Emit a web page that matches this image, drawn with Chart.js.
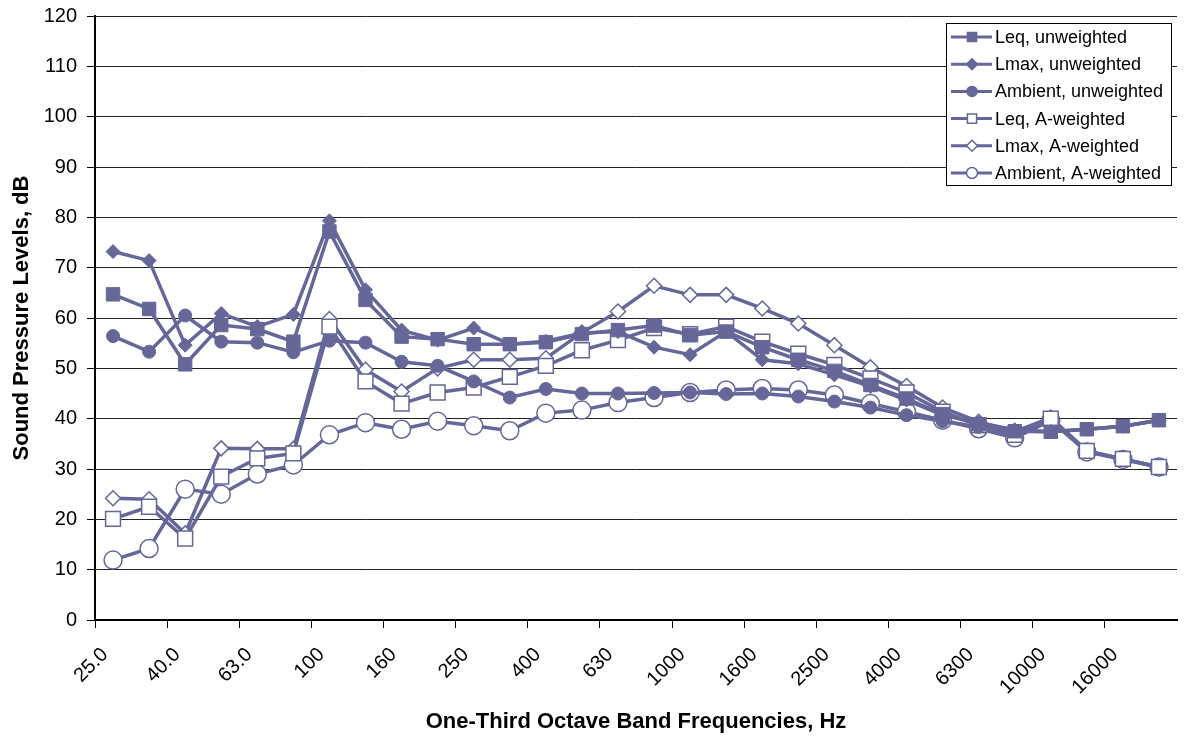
<!DOCTYPE html>
<html>
<head>
<meta charset="utf-8">
<script src="https://cdn.jsdelivr.net/npm/chart.js@4/dist/chart.umd.min.js"></script>
<style>
  html, body { margin: 0; padding: 0; background: #fff; overflow: hidden; }
  #wrap { width: 1185px; height: 738px; overflow: hidden; position: relative; }
  #box { width: 1189px; height: 738px; position: absolute; left: 0; top: 0; }
</style>
</head>
<body>
<div id="wrap"><div id="box"><canvas id="chart_spl"></canvas></div></div>
<script>
// one-third octave bands, Hz
const bands = ['25.0', '31.5', '40.0', '50.0', '63.0', '80.0', '100', '125', '160', '200',
  '250', '315', '400', '500', '630', '800', '1000', '1250', '1600', '2000',
  '2500', '3150', '4000', '5000', '6300', '8000', '10000', '12500', '16000', '20000'];

const yTicks = { min: 0, max: 120, step: 10 };

// levels in dB
const leqUnweighted = [64.7, 61.8, 50.8, 58.6, 57.8, 55.3, 77.2, 63.6, 56.3, 55.8, 54.8, 54.8, 55.2, 56.8, 57.6,
  58.5, 56.6, 57.3, 54.2, 51.7, 49.5, 46.7, 44.0, 40.9, 38.9, 37.5, 37.4, 37.9, 38.5, 39.7];
const lmaxUnweighted = [73.2, 71.4, 54.6, 60.9, 58.3, 60.7, 79.3, 65.6, 57.6, 55.6, 58.0, 54.8, 55.4, 57.0, 57.3,
  54.2, 52.7, 57.3, 51.7, 50.9, 48.7, 46.4, 43.7, 40.7, 39.2, 37.8, 37.4, 37.9, 38.5, 39.7];
const ambientUnweighted = [56.4, 53.3, 60.5, 55.3, 55.1, 53.2, 55.5, 55.1, 51.3, 50.5, 47.4, 44.2, 45.9, 45.0, 45.0,
  45.1, 45.2, 44.9, 45.0, 44.4, 43.4, 42.2, 40.7, 39.5, 38.4, 37.6, 37.4, 37.9, 38.5, 39.7];
const leqA = [20.1, 22.5, 16.2, 28.5, 32.1, 33.1, 58.3, 47.4, 43.0, 45.2, 46.2, 48.3, 50.5, 53.6, 55.6,
  58.0, 56.8, 58.3, 55.3, 52.9, 50.7, 48.0, 45.2, 41.4, 38.7, 36.8, 40.0, 33.6, 32.0, 30.4];
const lmaxA = [24.2, 24.0, 17.2, 34.1, 34.0, 34.0, 59.8, 49.7, 45.4, 50.0, 51.7, 51.7, 52.0, 57.1, 61.3,
  66.4, 64.6, 64.6, 61.9, 58.9, 54.6, 50.2, 46.5, 42.2, 39.4, 37.4, 40.2, 33.6, 32.0, 30.4];
const ambientA = [11.9, 14.2, 26.0, 25.0, 29.0, 30.8, 36.8, 39.2, 37.9, 39.5, 38.6, 37.6, 41.1, 41.7, 43.2,
  44.2, 45.2, 45.7, 46.0, 45.7, 44.7, 43.0, 41.4, 39.7, 38.0, 36.2, 39.6, 33.4, 31.9, 30.4];

const seriesColor = '#666699';
const FONT = "'Liberation Sans', Arial, sans-serif";

function series(label, data, style, radius, filled, legendRadius) {
  return {
    label: label,
    data: data,
    borderColor: seriesColor,
    borderWidth: 3.5,
    pointStyle: style,
    pointRadius: radius,
    pointBackgroundColor: filled ? seriesColor : '#fff',
    pointBorderColor: seriesColor,
    pointBorderWidth: filled ? 1 : 1.5,
    legendRadius: legendRadius,
    filled: filled,
    tension: 0,
    fill: false,
  };
}

// legend box drawn inside the plot, top right
const boxLegend = {
  id: 'boxLegend',
  afterDraw(chart) {
    const ctx = chart.ctx;
    const x0 = 946, y0 = 23, w = 225, h = 162, rowH = 27.2;
    ctx.save();
    ctx.fillStyle = '#fff';
    ctx.fillRect(x0, y0, w, h);
    ctx.strokeStyle = '#000';
    ctx.lineWidth = 1;
    ctx.strokeRect(x0 + 0.5, y0 + 0.5, w, h);
    chart.data.datasets.forEach((ds, i) => {
      const y = y0 + 14 + i * rowH;
      ctx.strokeStyle = seriesColor;
      ctx.lineWidth = 3;
      ctx.beginPath();
      ctx.moveTo(x0 + 5, y);
      ctx.lineTo(x0 + 46, y);
      ctx.stroke();
      ctx.fillStyle = ds.filled ? seriesColor : '#fff';
      ctx.strokeStyle = seriesColor;
      ctx.lineWidth = 1.5;
      Chart.helpers.drawPoint(ctx, { pointStyle: ds.pointStyle, radius: ds.legendRadius, rotation: 0, borderWidth: 1.5 }, x0 + 26, y);
      ctx.fillStyle = '#000';
      ctx.font = '18px ' + FONT;
      ctx.textBaseline = 'middle';
      ctx.textAlign = 'left';
      ctx.fillText(ds.label, x0 + 49, y + 1);
    });
    ctx.restore();
  }
};

new Chart(document.getElementById('chart_spl'), {
  type: 'line',
  data: {
    labels: bands,
    datasets: [
      series('Leq, unweighted', leqUnweighted, 'rect', 9.5, true, 6.5),
      series('Lmax, unweighted', lmaxUnweighted, 'rectRot', 7, true, 5.5),
      series('Ambient, unweighted', ambientUnweighted, 'circle', 6.5, true, 5),
      series('Leq, A-weighted', leqA, 'rect', 10.5, false, 6.5),
      series('Lmax, A-weighted', lmaxA, 'rectRot', 7.5, false, 5.5),
      series('Ambient, A-weighted', ambientA, 'circle', 9, false, 5.5),
    ],
  },
  options: {
    responsive: true,
    maintainAspectRatio: false,
    animation: false,
    layout: { padding: 0 },
    plugins: {
      legend: { display: false },
      tooltip: { enabled: false },
    },
    scales: {
      x: {
        offset: true,
        afterFit: (scale) => {
          scale.height = 118;
          scale.paddingLeft = 0;
          scale.paddingRight = 0;
        },
        grid: {
          offset: true,
          drawOnChartArea: false,
          drawTicks: true,
          tickLength: 8,
          tickColor: (c) => (c.index % 2 === 0 ? '#000' : 'rgba(0,0,0,0)'),
        },
        border: { color: '#000', width: 2 },
        ticks: {
          autoSkip: false,
          minRotation: 45,
          maxRotation: 45,
          padding: 15,
          labelOffset: -8,
          color: '#000',
          font: { family: FONT, size: 20 },
          callback: function (value, index) {
            return index % 2 === 0 ? this.getLabelForValue(value) : '';
          },
        },
        title: {
          display: true,
          text: 'One-Third Octave Band Frequencies, Hz',
          color: '#000',
          font: { family: FONT, size: 22, weight: 'bold' },
          padding: { top: 4, bottom: 3 },
        },
      },
      y: {
        min: yTicks.min,
        max: yTicks.max,
        afterFit: (scale) => {
          scale.width = 95;
          scale.paddingTop = 16;
          scale.paddingBottom = 0;
        },
        grid: {
          color: '#222',
          lineWidth: 1,
          drawTicks: true,
          tickLength: 8,
          tickColor: '#000',
        },
        border: { color: '#000', width: 2 },
        ticks: {
          stepSize: yTicks.step,
          padding: 10,
          color: '#000',
          font: { family: FONT, size: 20 },
        },
        title: {
          display: true,
          text: 'Sound Pressure Levels, dB',
          color: '#000',
          font: { family: FONT, size: 22, weight: 'bold' },
          padding: { top: 9, bottom: 4 },
        },
      },
    },
  },
  plugins: [boxLegend],
});
</script>
</body>
</html>
